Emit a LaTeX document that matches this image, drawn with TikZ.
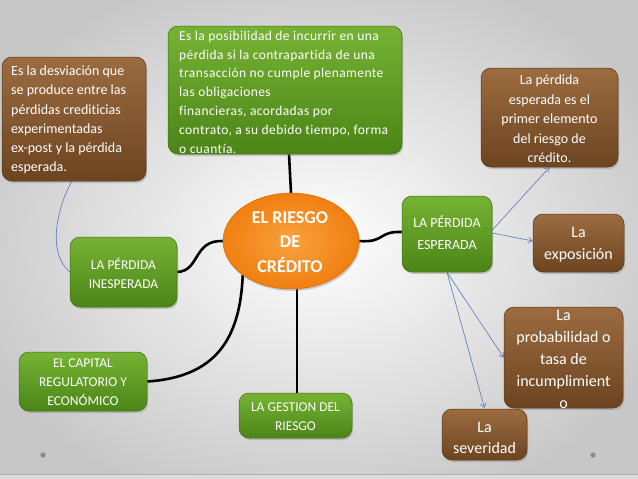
\documentclass[tikz,border=0pt]{standalone}
\usepackage{fontspec}
\setmainfont{Carlito}[Ligatures=NoCommon]
\usetikzlibrary{shadows,arrows.meta,shapes.geometric,calc}
\definecolor{grnT}{HTML}{76B334}
\definecolor{grnB}{HTML}{4B8517}
\definecolor{grnD}{HTML}{3F7012}
\definecolor{brnT}{HTML}{9C6C40}
\definecolor{brnB}{HTML}{6C4420}
\definecolor{brnD}{HTML}{5A381A}
\definecolor{orIn}{HTML}{FAA23F}
\definecolor{orOut}{HTML}{F07F10}
\definecolor{orD}{HTML}{D96A08}
\definecolor{blueln}{HTML}{5876BE}
\pgfdeclarelayer{back}
\pgfdeclarelayer{bg}
\pgfsetlayers{back,bg,main}
\begin{document}
\begin{tikzpicture}[x=1pt,y=-1pt,
  boxbase/.style={rounded corners=10pt, inner sep=0pt, line width=0.5pt,
    drop shadow={opacity=0.35, shadow xshift=1.2pt, shadow yshift=-2pt}},
  gbox/.style={boxbase, draw=grnD, top color=grnT, bottom color=grnB},
  bbox/.style={boxbase, draw=brnD, top color=brnT, bottom color=brnB},
  txt/.style={text=white, inner sep=0pt, align=center},
  fA/.style={font=\fontsize{14}{19.2}\selectfont},
  fB/.style={font=\fontsize{13.5}{18.8}\selectfont\addfontfeature{LetterSpace=3}},
  fC/.style={font=\fontsize{16}{21.8}\selectfont},
  fD/.style={font=\fontsize{13.5}{19}\selectfont},
  conn/.style={line width=2.6pt, black},
  arr/.style={draw=blueln, line width=0.6pt, -{Straight Barb[length=4pt,width=6pt]}},
  link/.style={draw=blueln, line width=0.6pt}
]
\useasboundingbox (0,0) rectangle (638,479);
\begin{pgfonlayer}{back}
  \shade[inner color=white, outer color=black!22] (-60,-40) rectangle (698,519);
  \fill[black!14] (0,474) rectangle (638,479);
  \draw[black!30, line width=0.6pt] (0,474) -- (638,474);
  \fill[black!45] (43,455) circle (2.6);
  \fill[black!45] (593,455) circle (2.6);
\end{pgfonlayer}

% boxes
\node[bbox, minimum width=144, minimum height=124] (desv) at (74,119) {};
\node[txt, fA, align=left, anchor=west] (desvT) at (11,120)
  {Es la desviación que\\se produce entre las\\pérdidas crediticias\\experimentadas\\ex-post y la pérdida\\esperada.};

\node[gbox, minimum width=234, minimum height=128] (def) at (285,90) {};
\node[txt, fB, align=left, anchor=west] (defT) at (179,92)
  {Es la posibilidad de incurrir en una\\pérdida si la contrapartida de una\\transacción no cumple plenamente\\las obligaciones\\financieras, acordadas por\\contrato, a su debido tiempo, forma\\o cuantía.};

\node[bbox, minimum width=137, minimum height=99] (pe) at (549.5,117.5) {};
\node[txt, font=\fontsize{14}{19.5}\selectfont] (peT) at (549.5,119)
  {La pérdida\\esperada es el\\primer elemento\\del riesgo de\\crédito.};

\node[ellipse, minimum width=136, minimum height=96, inner sep=0pt,
  draw=orD, line width=0.5pt, inner color=orIn, outer color=orOut,
  drop shadow={opacity=0.35, shadow xshift=1.2pt, shadow yshift=-2pt}] (core) at (291,241) {};
\node[txt, font=\fontsize{18}{24.5}\selectfont\bfseries] (coreT) at (290,242)
  {EL RIESGO\\DE\\CRÉDITO};

\node[gbox, minimum width=107, minimum height=70] (ines) at (123.5,272) {};
\node[txt, fD] (inesT) at (123.5,273) {LA PÉRDIDA\\INESPERADA};

\node[gbox, minimum width=128, minimum height=59] (cap) at (83,381.5) {};
\node[txt, fD] (capT) at (83,382) {EL CAPITAL\\REGULATORIO Y\\ECONÓMICO};

\node[gbox, minimum width=113, minimum height=45] (gest) at (295.5,415.5) {};
\node[txt, fD] (gestT) at (295.5,417) {LA GESTION DEL\\RIESGO};

\node[gbox, minimum width=90, minimum height=76] (esp) at (447,234) {};
\node[txt, font=\fontsize{14}{22}\selectfont] (espT) at (447,233) {LA PÉRDIDA\\ESPERADA};

\node[bbox, minimum width=91, minimum height=58] (expo) at (578.5,243) {};
\node[txt, fC] (expoT) at (578.5,245) {La\\exposición};

\node[bbox, minimum width=119, minimum height=101] (prob) at (563.5,357.5) {};
\node[txt, fC] (probT) at (563.5,359.5) {La\\probabilidad o\\tasa de\\incumplimient\\o};

\node[bbox, minimum width=85, minimum height=51] (sev) at (484.5,434.5) {};
\node[txt, fC] (sevT) at (484.5,438) {La\\severidad};

% connectors
\begin{pgfonlayer}{bg}
  \draw[conn] ($(def.south)+(4,0)$) -- (core.north);
  \draw[conn] (ines.east) .. controls (200,271) and (193,240) .. (core.west);
  \draw[conn] (core.south west) .. controls (240,340) and (215,377) .. (cap.east);
  \draw[conn] ($(core.south)+(6,0)$) -- ($(gest.north)+(1.5,0)$);
  \draw[conn] (core.east) .. controls (385,243) and (378,231) .. ($(esp.west)+(0,-2)$);
  \draw[link] ($(desv.south)+(-2,0)$) .. controls (58,205) and (46,252) .. (ines.west);
\end{pgfonlayer}
\draw[arr] ($(esp.east)+(0,-4)$) -- (pe.south);
\draw[arr] ($(esp.east)+(0,-1)$) -- ($(expo.west)+(0,-2)$);
\draw[arr] (esp.south) -- (prob.west);
\draw[arr] (esp.south) -- ($(sev.north)+(0,-1)$);
\end{tikzpicture}
\end{document}
